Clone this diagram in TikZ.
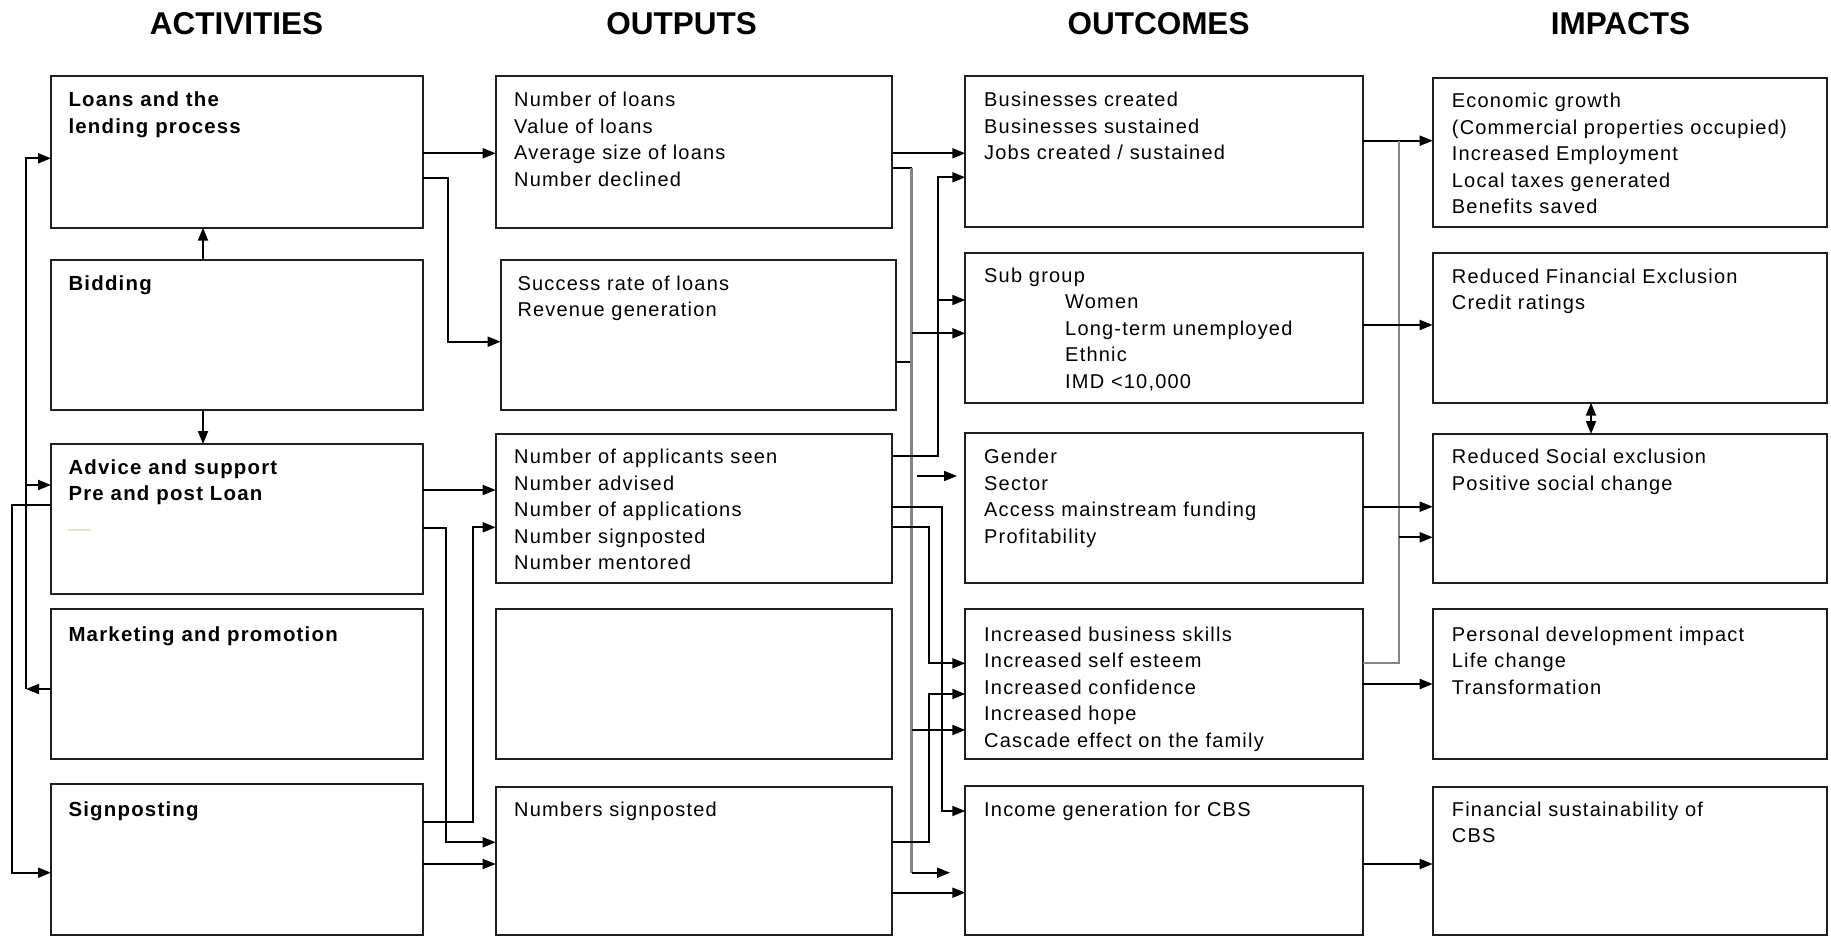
\documentclass[tikz,border=0pt]{standalone}
\usepackage{fontspec}
\setmainfont{Liberation Sans}[LetterSpace=6]
\newfontfamily\headfont{Liberation Sans}
\usetikzlibrary{arrows.meta}

\begin{document}
\begin{tikzpicture}[x=1pt,y=-1pt,
  box/.style={draw=black!88, line width=2pt, anchor=north west, inner sep=0pt, outer sep=0pt},
  txt/.style={anchor=north west, inner sep=0pt, align=left, font=\fontsize{20}{26.5}\selectfont},
  btxt/.style={txt, font=\fontsize{20.4}{26.5}\selectfont\bfseries},
  head/.style={anchor=base, inner sep=0pt, font=\headfont\fontsize{31.5}{36}\selectfont\bfseries},
  link/.style={line width=1.9pt, draw=black},
  arr/.style={link, -{Triangle[length=13pt,width=10pt]}},
  feed/.style={line width=2.3pt, draw=black!48},
]
\useasboundingbox[fill=white] (0,0) rectangle (1831,936);
\newcommand\st{\rule{0pt}{20pt}}

% column headings
\node[head] (h1) at (236.5,35) {ACTIVITIES};
\node[head] (h2) at (681.5,35) {OUTPUTS};
\node[head] (h3) at (1158.5,35) {OUTCOMES};
\node[head] (h4) at (1620.5,35) {IMPACTS};

% activities
\node[box, minimum width=371.7pt, minimum height=152pt]   (a1) at (51,75.7) {};
\node[box, minimum width=371.7pt, minimum height=150pt]   (a2) at (51,260) {};
\node[box, minimum width=371.7pt, minimum height=149.7pt] (a3) at (51,444) {};
\node[box, minimum width=371.7pt, minimum height=149.7pt] (a4) at (51,609) {};
\node[box, minimum width=371.7pt, minimum height=150.5pt] (a5) at (51,784) {};
\node[btxt] (ta1) at (68.3,86.7) {\st Loans and the\\lending process};
\node[btxt] (ta2) at (68.3,270) {\st Bidding};
\node[btxt] (ta3) at (68.3,454) {\st Advice and support\\Pre and post Loan};
\node[btxt] (ta4) at (68.3,621.7) {\st Marketing and promotion};
\node[btxt] (ta5) at (68.3,796) {\st Signposting};
\draw[draw={rgb,255:red,232;green,226;blue,204}, line width=1.5pt] (68,530) -- (91,530);

% outputs
\node[box, minimum width=396.3pt, minimum height=152pt]   (o1) at (495.7,75.7) {};
\node[box, minimum width=395pt,   minimum height=150pt]   (o2) at (500.7,260) {};
\node[box, minimum width=396.3pt, minimum height=149.3pt] (o3) at (495.7,434) {};
\node[box, minimum width=396.3pt, minimum height=149.4pt] (o4) at (495.7,609.3) {};
\node[box, minimum width=396.3pt, minimum height=147.8pt] (o5) at (495.7,786.7) {};
\node[txt] (to1) at (514,86.7) {\st Number of loans\\Value of loans\\Average size of loans\\Number declined};
\node[txt] (to2) at (517.3,270) {\st Success rate of loans\\Revenue generation};
\node[txt] (to3) at (514,443.5) {\st Number of applicants seen\\Number advised\\Number of applications\\Number signposted\\Number mentored};
\node[txt] (to5) at (514,796) {\st Numbers signposted};

% outcomes
\node[box, minimum width=398pt, minimum height=150.7pt] (c1) at (965.3,76) {};
\node[box, minimum width=398pt, minimum height=149.7pt] (c2) at (965.3,253) {};
\node[box, minimum width=398pt, minimum height=150.3pt] (c3) at (965.3,433) {};
\node[box, minimum width=398pt, minimum height=149.4pt] (c4) at (965.3,609.3) {};
\node[box, minimum width=398pt, minimum height=148.5pt] (c5) at (965.3,786) {};
\node[txt] (tc1) at (984,86.7) {\st Businesses created\\Businesses sustained\\Jobs created / sustained};
\node[txt] (tc2) at (984,262) {\st Sub group\\\hspace*{81pt}Women\\\hspace*{81pt}Long-term unemployed\\\hspace*{81pt}Ethnic\\\hspace*{81pt}IMD <10,000};
\node[txt] (tc3) at (984,443.5) {\st Gender\\Sector\\Access mainstream funding\\Profitability};
\node[txt] (tc4) at (984,621) {\st Increased business skills\\Increased self esteem\\Increased confidence\\Increased hope\\Cascade effect on the family};
\node[txt] (tc5) at (984,796) {\st Income generation for CBS};

% impacts
\node[box, minimum width=394.3pt, minimum height=148.4pt] (i1) at (1432.7,78.3) {};
\node[box, minimum width=394.3pt, minimum height=149.7pt] (i2) at (1432.7,253) {};
\node[box, minimum width=394.3pt, minimum height=149.3pt] (i3) at (1432.7,434) {};
\node[box, minimum width=394.3pt, minimum height=149.4pt] (i4) at (1432.7,609.3) {};
\node[box, minimum width=394.3pt, minimum height=147.8pt] (i5) at (1432.7,786.7) {};
\node[txt] (ti1) at (1451.7,87.5) {\st Economic growth\\(Commercial properties occupied)\\Increased Employment\\Local taxes generated\\Benefits saved};
\node[txt] (ti2) at (1451.7,263) {\st Reduced Financial Exclusion\\Credit ratings};
\node[txt] (ti3) at (1451.7,443.5) {\st Reduced Social exclusion\\Positive social change};
\node[txt] (ti4) at (1451.7,621) {\st Personal development impact\\Life change\\Transformation};
\node[txt] (ti5) at (1451.7,796) {\st Financial sustainability of\\CBS};

% routing columns
\coordinate (lb1) at (26,0);
\coordinate (lb2) at (12.3,0);
\coordinate (bx) at (203,0);
\coordinate (gx) at (911.5,0);
\coordinate (hx) at (1398.7,0);
\coordinate (dx) at (1591,0);

% links between activities
\draw[arr] (a4.west |- 0,689) -- (lb1 |- 0,689);
\draw[arr] (lb1 |- 0,689) -- (lb1 |- 0,158.3) -- (a1.west |- 0,158.3);
\draw[arr] (lb1 |- 0,485) -- (a3.west |- 0,485);
\draw[arr] (a3.west |- 0,505.3) -- (lb2 |- 0,505.3) -- (lb2 |- 0,872.7) -- (a5.west |- 0,872.7);
\draw[arr] (bx |- a2.north) -- (bx |- a1.south);
\draw[arr] (bx |- a2.south) -- (bx |- a3.north);

% activities to outputs
\draw[arr] (a1.east |- 0,153.3) -- (o1.west |- 0,153.3);
\draw[arr] (a1.east |- 0,178.3) -- (447.7,178.3) -- (447.7,341.7) -- (o2.west |- 0,341.7);
\draw[arr] (a3.east |- 0,490) -- (o3.west |- 0,490);
\draw[arr] (a3.east |- 0,527.7) -- (445.7,527.7) -- (445.7,842.3) -- (o5.west |- 0,842.3);
\draw[arr] (a5.east |- 0,821.7) -- (473.3,821.7) -- (473.3,527.3) -- (o3.west |- 0,527.3);
\draw[arr] (a5.east |- 0,864) -- (o5.west |- 0,864);

% outputs to outcomes
\draw[arr] (o1.east |- 0,153.3) -- (c1.west |- 0,153.3);
\draw[link] (o1.east |- 0,168.3) -- (gx |- 0,168.3);
\draw[link] (o2.east |- 0,362.3) -- (gx |- 0,362.3);
\draw[feed] (gx |- 0,168.3) -- (gx |- 0,872.7);
\draw[arr] (gx |- 0,333.3) -- (c2.west |- 0,333.3);
\draw[arr] (gx |- 0,730) -- (c4.west |- 0,730);
\coordinate (e1) at (950,872.7);
\draw[arr] (gx |- e1) -- (e1);
\draw[arr] (o3.east |- 0,455.7) -- (937.7,455.7) -- (937.7,177.3) -- (c1.west |- 0,177.3);
\draw[arr] (937.7,300) -- (c2.west |- 0,300);
\coordinate (s2) at (917.3,476);
\coordinate (e2) at (957,476);
\draw[arr] (s2) -- (e2);
\draw[arr] (o3.east |- 0,506.7) -- (941.7,506.7) -- (941.7,811) -- (c5.west |- 0,811);
\draw[arr] (o3.east |- 0,527.3) -- (929.3,527.3) -- (929.3,663.3) -- (c4.west |- 0,663.3);
\draw[arr] (o5.east |- 0,842.3) -- (929.3,842.3) -- (929.3,694) -- (c4.west |- 0,694);
\draw[arr] (o5.east |- 0,892.7) -- (c5.west |- 0,892.7);

% outcomes to impacts
\draw[arr] (c1.east |- 0,140.7) -- (i1.west |- 0,140.7);
\draw[feed] (c4.east |- 0,663.3) -- (hx |- 0,663.3) -- (hx |- 0,140.7);
\draw[arr] (hx |- 0,537.3) -- (i3.west |- 0,537.3);
\draw[arr] (c2.east |- 0,325) -- (i2.west |- 0,325);
\draw[arr] (c3.east |- 0,506.7) -- (i3.west |- 0,506.7);
\draw[arr] (c4.east |- 0,684) -- (i4.west |- 0,684);
\draw[arr] (c5.east |- 0,864) -- (i5.west |- 0,864);
\draw[link, {Triangle[length=13pt,width=10pt]}-{Triangle[length=13pt,width=10pt]}] (dx |- i2.south) -- (dx |- i3.north);
\end{tikzpicture}
\end{document}
